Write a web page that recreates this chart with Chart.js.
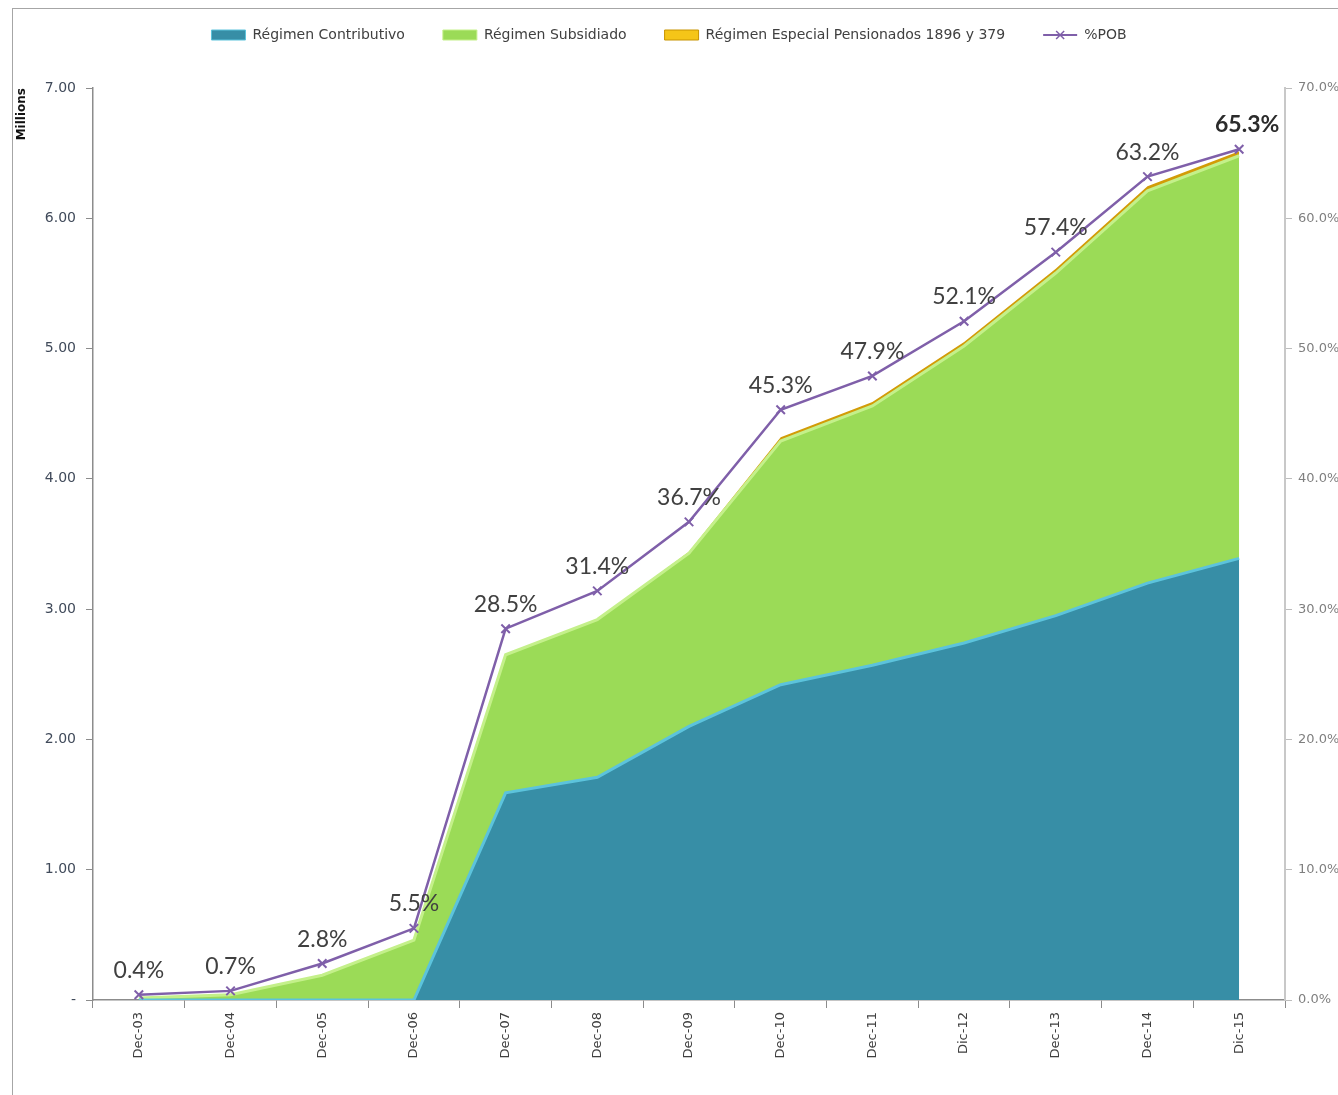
<!DOCTYPE html>
<html>
<head>
<meta charset="utf-8">
<script src="https://cdn.jsdelivr.net/npm/chart.js@4.4.1/dist/chart.umd.min.js"></script>
<style>
  body { margin: 0; background: #fff; overflow: hidden; }
  #frame {
    position: absolute; left: 12px; top: 8px;
    width: 1400px; height: 1200px;
    border: 1px solid #a6a6a6;
  }
  #chart { position: absolute; left: 0; top: 0; }
</style>
</head>
<body>
<div id="frame"></div>
<canvas id="chart" width="1338" height="1095"></canvas>
<script>
const labels = ["Dec-03", "Dec-04", "Dec-05", "Dec-06", "Dec-07", "Dec-08", "Dec-09", "Dec-10", "Dec-11", "Dic-12", "Dec-13", "Dec-14", "Dic-15"];
const contributivo = [0, 0, 0, 0, 1.59, 1.71, 2.10, 2.42, 2.57, 2.74, 2.95, 3.20, 3.39];
const subsidiado = [0.015, 0.04, 0.19, 0.46, 1.06, 1.21, 1.33, 1.87, 1.99, 2.28, 2.63, 3.01, 3.09];
const especial = [0, 0, 0, 0, 0, 0, 0.01, 0.03, 0.03, 0.03, 0.032, 0.035, 0.035];
const pobPct = [0.4, 0.7, 2.8, 5.5, 28.5, 31.4, 36.7, 45.3, 47.9, 52.1, 57.4, 63.2, 65.3];

const leftTicks = [0, 1, 2, 3, 4, 5, 6, 7];
const rightTicks = [0, 10, 20, 30, 40, 50, 60, 70];

const purple = "#7f5fa9";

// fixed legend height so the plot starts where the reference does
const legendHeight = {
  id: "legendHeight",
  beforeInit(chart) {
    const fit = chart.legend.fit;
    chart.legend.fit = function () {
      fit.bind(chart.legend)();
      this.height = 98;
    };
  },
};

// percentage labels above the %POB points, plus the x on the legend line
const pobLabels = {
  id: "pobLabels",
  afterDatasetsDraw(chart) {
    const ctx = chart.ctx;
    const meta = chart.getDatasetMeta(3);
    ctx.save();
    ctx.textAlign = "center";
    ctx.textBaseline = "alphabetic";
    meta.data.forEach((pt, i) => {
      const last = i === pobPct.length - 1;
      ctx.font = (last ? "bold " : "") + "23px Lato, 'Open Sans', sans-serif";
      ctx.fillStyle = last ? "#2b2b2b" : "#404040";
      ctx.fillText(pobPct[i].toFixed(1) + "%", pt.x + (last ? 8 : 0), pt.y - 17);
    });
    ctx.restore();
  },
  afterDraw(chart) {
    const box = chart.legend.legendHitBoxes[3];
    if (!box) return;
    const ctx = chart.ctx;
    const cx = box.left + 17;
    const cy = box.top + box.height / 2;
    ctx.save();
    ctx.strokeStyle = purple;
    ctx.lineWidth = 1.5;
    ctx.beginPath();
    ctx.moveTo(cx - 4, cy - 4);
    ctx.lineTo(cx + 4, cy + 4);
    ctx.moveTo(cx + 4, cy - 4);
    ctx.lineTo(cx - 4, cy + 4);
    ctx.stroke();
    ctx.restore();
  },
};

const chart = new Chart(document.getElementById("chart").getContext("2d"), {
  type: "line",
  data: {
    labels: labels,
    datasets: [
      {
        label: "Régimen Contributivo",
        data: contributivo,
        backgroundColor: "#378ea6",
        borderColor: "#5cc3dc",
        borderWidth: 3,
        fill: "origin",
        pointRadius: 0,
        tension: 0,
        order: 1,
      },
      {
        label: "Régimen Subsidiado",
        data: subsidiado,
        backgroundColor: "#9bdb57",
        borderColor: "#c4f08a",
        borderWidth: 3,
        fill: "-1",
        pointRadius: 0,
        tension: 0,
        order: 1,
      },
      {
        label: "Régimen Especial Pensionados 1896 y 379",
        data: especial,
        backgroundColor: "#d29c08",
        borderColor: "#f5c518",
        borderWidth: 0,
        fill: "-1",
        pointRadius: 0,
        tension: 0,
        order: 1,
      },
      {
        label: "%POB",
        data: pobPct,
        yAxisID: "y1",
        borderColor: purple,
        backgroundColor: purple,
        borderWidth: 2.5,
        fill: false,
        pointStyle: "crossRot",
        pointRadius: 6,
        pointBorderWidth: 2,
        pointBorderColor: purple,
        tension: 0,
        order: 0,
      },
    ],
  },
  options: {
    responsive: false,
    animation: false,
    layout: { padding: { top: -10, left: 0, right: 0, bottom: 0 } },
    plugins: {
      legend: {
        display: true,
        position: "top",
        labels: {
          usePointStyle: true,
          pointStyleWidth: 34,
          boxWidth: 34,
          boxHeight: 10,
          padding: 38,
          color: "#404040",
          font: { family: "'DejaVu Sans', sans-serif", size: 14 },
          sort: (a, b) => a.datasetIndex - b.datasetIndex,
          generateLabels(chart) {
            const items = Chart.defaults.plugins.legend.labels.generateLabels(chart);
            items.forEach((it) => {
              const ds = chart.data.datasets[it.datasetIndex];
              if (it.datasetIndex === 3) {
                it.pointStyle = "line";
                it.lineWidth = 2;
                it.strokeStyle = purple;
              } else {
                it.pointStyle = "rect";
                it.fillStyle = it.datasetIndex === 2 ? "#f5c518" : ds.backgroundColor;
                it.strokeStyle = it.datasetIndex === 2 ? "#c89400" : ds.borderColor;
                it.lineWidth = 1;
              }
            });
            return items;
          },
        },
      },
      tooltip: { enabled: false },
    },
    scales: {
      x: {
        offset: true,
        grid: {
          offset: true,
          drawOnChartArea: false,
          drawTicks: true,
          tickLength: 8,
          color: "#8c8c8c",
        },
        border: { color: "#8c8c8c", width: 1.5 },
        ticks: {
          minRotation: 90,
          maxRotation: 90,
          padding: 4,
          color: "#404040",
          font: { family: "'DejaVu Sans', sans-serif", size: 13 },
        },
        afterFit(scale) {
          scale.height = 95;
        },
      },
      y: {
        stacked: true,
        min: 0,
        max: 7,
        position: "left",
        afterBuildTicks(scale) {
          scale.ticks = leftTicks.map((v) => ({ value: v }));
        },
        grid: {
          drawOnChartArea: false,
          tickLength: 7,
          color: "#8c8c8c",
        },
        border: { color: "#8c8c8c", width: 1.5 },
        ticks: {
          padding: 10,
          color: "#404a5a",
          font: { family: "'DejaVu Sans', sans-serif", size: 14 },
          callback: (v) => (v === 0 ? "-" : v.toFixed(2)),
        },
        title: {
          display: true,
          text: "Millions",
          align: "end",
          color: "#111",
          padding: { top: 15, bottom: 0 },
          font: { family: "'DejaVu Sans', sans-serif", size: 12, weight: "bold" },
        },
        afterFit(scale) {
          scale.width = 93;
        },
      },
      y1: {
        min: 0,
        max: 70,
        position: "right",
        afterBuildTicks(scale) {
          scale.ticks = rightTicks.map((v) => ({ value: v }));
        },
        grid: {
          drawOnChartArea: false,
          tickLength: 7,
          color: "#bdbdbd",
        },
        border: { color: "#c8c8c8", width: 2 },
        ticks: {
          padding: 6,
          color: "#7f7f7f",
          font: { family: "'DejaVu Sans', sans-serif", size: 13 },
          callback: (v) => v.toFixed(1) + "%",
        },
        afterFit(scale) {
          scale.width = 53;
        },
      },
    },
  },
  plugins: [legendHeight, pobLabels],
});
</script>
</body>
</html>
